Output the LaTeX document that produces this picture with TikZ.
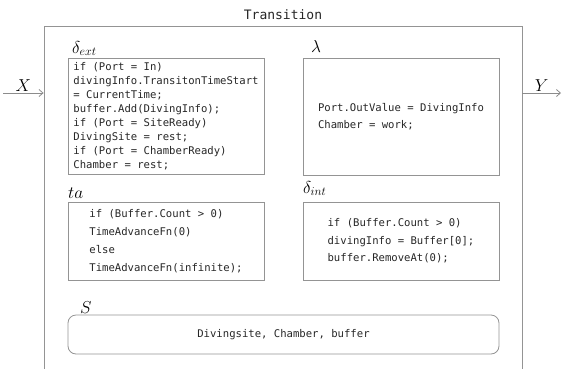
\documentclass[tikz,border=0pt]{standalone}
\usepackage{fontspec}
\setmonofont{DejaVu Sans Mono}
\usetikzlibrary{positioning,arrows.meta}

\begin{document}
\begin{tikzpicture}[x=1pt,y=-1pt,
  codebox/.style={draw=black!42,line width=0.8pt,align=left,inner sep=0pt,
    text=black!85,font=\ttfamily\fontsize{10.6}{17.5}\selectfont},
  fnlbl/.style={anchor=base west,inner sep=0pt,font=\fontsize{18.5}{21}\selectfont},
  port/.style={draw=black!45,line width=0.8pt,-{Straight Barb[length=4pt,width=7pt]}},
  portlbl/.style={above=0pt,inner sep=1pt,font=\fontsize{18}{21}\selectfont}]
\useasboundingbox (0,0) rectangle (563,368);

% --- atomic model frame (bottom edge runs off the page) ---
\node[draw=black!42,line width=0.8pt,minimum width=478pt,minimum height=380pt,
  inner sep=0pt] (trans) at (283,216) {};
\node[font=\ttfamily\fontsize{13}{15}\selectfont,text=black!85] (title) at (283,15) {Transition};

% --- ports ---
\coordinate (xin) at (3,93);
\coordinate (yout) at (561,93);
\draw[port] (xin) -- node[portlbl]{$X$} (xin -| trans.west);
\draw[port] (yout -| trans.east) -- node[portlbl]{$Y$} (yout);

% --- transition functions ---
\node[codebox,font=\ttfamily\fontsize{10.6}{14}\selectfont,
  minimum width=196pt,minimum height=116pt] (ext) at (166,116)
  {if (Port = In)\\
   divingInfo.TransitonTimeStart\\
   = CurrentTime;\\
   buffer.Add(DivingInfo);\\
   if (Port = SiteReady)\\
   DivingSite = rest;\\
   if (Port = ChamberReady)\\
   Chamber = rest;};
\node[codebox,font=\ttfamily\fontsize{10.6}{17}\selectfont,
  minimum width=196pt,minimum height=117pt] (out) at (401,116.5)
  {Port.OutValue = DivingInfo\\
   Chamber = work;};
\node[codebox,font=\ttfamily\fontsize{10.6}{18}\selectfont,
  minimum width=196pt,minimum height=78pt] (ta) at (166,241)
  {if (Buffer.Count > 0)\\
   TimeAdvanceFn(0)\\
   else\\
   TimeAdvanceFn(infinite);};
\node[codebox,minimum width=196pt,minimum height=78pt] (int) at (401,241)
  {if (Buffer.Count > 0)\\
   divingInfo = Buffer[0];\\
   buffer.RemoveAt(0);};

% --- state set ---
\node[codebox,rounded corners=8pt,minimum width=431pt,minimum height=39pt,align=center]
  (state) at (283.5,334.5) {Divingsite, Chamber, buffer};

% --- function names ---
\node[fnlbl] (lext) at (72,53) {$\delta_{ext}$};
\node[fnlbl] (lout) at (311,52) {$\lambda$};
\node[fnlbl] (lta) at (68,198) {$ta$};
\node[fnlbl] (lint) at (303,193) {$\delta_{int}$};
\node[fnlbl] (lstate) at (80,313) {$S$};
\end{tikzpicture}
\end{document}
